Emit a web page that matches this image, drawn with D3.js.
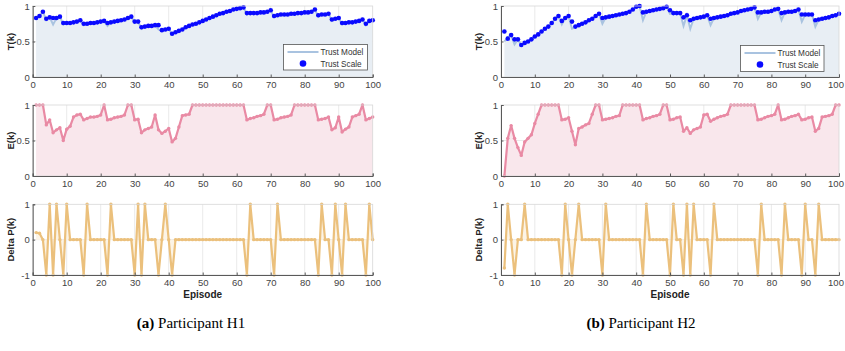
<!DOCTYPE html>
<html><head><meta charset="utf-8">
<script src="https://cdn.jsdelivr.net/npm/d3@7"></script>
<style>body{margin:0;background:#fff}svg{display:block}</style>
</head><body>
<svg id="c" width="845" height="351"></svg>
<script>
const episodes = d3.range(1, 101);
const xTicks = [0, 10, 20, 30, 40, 50, 60, 70, 80, 90, 100];
const trustTicks = [0, 0.5, 1];
const effortTicks = [0, 0.5, 1];
const deltaTicks = [-1, 0, 1];
const legendLabels = ["Trust Model", "Trust Scale"];
const rowLabels = ["T(k)", "E(k)", "Delta P(k)"];
const xLabel = "Episode";

// Participant H1
const h1TrustScale = [
 0.83,0.86,0.92,0.82,0.84,0.83,0.83,0.85,0.76,0.76,
 0.76,0.77,0.78,0.80,0.75,0.75,0.76,0.76,0.77,0.78,
 0.79,0.76,0.77,0.78,0.79,0.80,0.81,0.83,0.85,0.78,
 0.78,0.70,0.71,0.72,0.72,0.73,0.73,0.66,0.67,0.68,
 0.61,0.63,0.65,0.67,0.70,0.72,0.74,0.75,0.77,0.79,
 0.81,0.83,0.85,0.87,0.89,0.90,0.92,0.93,0.95,0.96,
 0.97,0.98,0.90,0.90,0.90,0.90,0.91,0.91,0.92,0.94,
 0.86,0.87,0.88,0.88,0.88,0.89,0.89,0.90,0.90,0.91,
 0.91,0.92,0.95,0.87,0.88,0.88,0.89,0.81,0.82,0.83,
 0.76,0.76,0.77,0.77,0.78,0.79,0.81,0.75,0.79,0.80];
const h1TrustModel = [
 0.83,0.86,0.92,0.80,0.84,0.74,0.83,0.85,0.74,0.76,
 0.76,0.77,0.78,0.80,0.73,0.75,0.76,0.76,0.77,0.78,
 0.79,0.72,0.77,0.78,0.79,0.80,0.81,0.83,0.85,0.76,
 0.78,0.68,0.71,0.72,0.72,0.73,0.67,0.65,0.67,0.68,
 0.60,0.63,0.65,0.67,0.70,0.72,0.74,0.75,0.77,0.79,
 0.81,0.83,0.85,0.87,0.89,0.90,0.92,0.93,0.95,0.96,
 0.97,0.98,0.88,0.90,0.90,0.90,0.91,0.91,0.92,0.94,
 0.84,0.87,0.88,0.88,0.88,0.89,0.89,0.90,0.90,0.91,
 0.91,0.92,0.95,0.85,0.88,0.88,0.89,0.79,0.82,0.83,
 0.74,0.76,0.77,0.77,0.78,0.79,0.81,0.73,0.79,0.80];
const h1Effort = [
 1,1,1,0.72,0.79,0.61,0.65,0.68,0.50,0.66,
 0.70,0.83,0.86,0.87,0.79,0.81,0.83,0.83,0.84,0.86,
 1,0.79,0.80,0.82,0.83,0.84,0.86,1,1,0.79,
 0.80,0.61,0.65,0.67,0.69,0.86,0.65,0.60,0.63,0.67,
 0.48,0.53,0.69,0.85,0.86,0.87,1,1,1,1,
 1,1,1,1,1,1,1,1,1,1,
 1,1,0.79,0.81,0.82,0.84,0.85,0.87,1,1,
 0.79,0.80,0.82,0.83,0.84,0.86,1,1,1,1,
 1,1,1,0.79,0.80,0.81,0.83,0.65,0.68,0.83,
 0.62,0.66,0.69,0.83,0.85,0.87,1,0.79,0.81,0.83];
const h1DeltaP = [
 0.2,0.18,0,-1,1,-1,1,0,-1,1,
 0,0,0,0,-1,1,0,0,0,0,
 0,-1,1,0,0,0,0,0,0,-1,
 1,-1,1,0,0,0,-1,0,1,0,
 -1,0,0,0,0,0,0,0,0,0,
 0,0,0,0,0,0,0,0,0,0,
 0,0,-1,1,0,0,0,0,0,0,
 -1,1,0,0,0,0,0,0,0,0,
 0,0,0,-1,1,0,0,-1,1,0,
 -1,1,0,0,0,0,0,-1,1,0];

// Participant H2
const h2TrustScale = [
 0.64,0.54,0.59,0.53,0.53,0.45,0.48,0.50,0.53,0.57,
 0.60,0.64,0.68,0.71,0.76,0.82,0.86,0.79,0.83,0.86,
 0.78,0.71,0.73,0.75,0.77,0.80,0.82,0.86,0.89,0.83,
 0.84,0.85,0.86,0.87,0.88,0.89,0.90,0.92,0.95,0.99,
 1.00,0.91,0.92,0.93,0.94,0.95,0.96,0.97,0.99,0.94,
 0.90,0.90,0.90,0.84,0.87,0.80,0.82,0.83,0.84,0.85,
 0.87,0.82,0.83,0.84,0.85,0.86,0.87,0.89,0.90,0.91,
 0.93,0.94,0.95,0.96,0.98,0.91,0.91,0.92,0.92,0.93,
 0.95,0.96,0.90,0.91,0.92,0.92,0.93,0.95,0.88,0.88,
 0.88,0.88,0.80,0.81,0.82,0.83,0.84,0.86,0.87,0.89];
const h2TrustModel = [
 0.50,0.56,0.59,0.46,0.53,0.45,0.48,0.50,0.53,0.57,
 0.60,0.64,0.68,0.71,0.76,0.82,0.86,0.74,0.83,0.86,
 0.68,0.70,0.73,0.75,0.77,0.80,0.82,0.86,0.89,0.75,
 0.84,0.85,0.86,0.87,0.88,0.89,0.90,0.92,0.95,0.99,
 1.00,0.80,0.92,0.93,0.94,0.95,0.96,0.97,0.99,0.89,
 0.90,0.90,0.90,0.72,0.87,0.68,0.82,0.83,0.84,0.85,
 0.87,0.73,0.83,0.84,0.85,0.86,0.87,0.89,0.90,0.91,
 0.93,0.94,0.95,0.96,0.98,0.82,0.91,0.92,0.92,0.93,
 0.95,0.96,0.80,0.91,0.92,0.92,0.93,0.95,0.78,0.88,
 0.88,0.88,0.71,0.81,0.82,0.83,0.84,0.86,0.87,0.89];
const h2Effort = [
 0,0.53,0.71,0.53,0.40,0.29,0.48,0.53,0.58,0.74,
 0.87,1,1,1,1,1,1,0.79,0.80,0.82,
 0.63,0.44,0.67,0.69,0.72,0.74,0.87,1,1,0.79,
 0.80,0.81,0.82,0.84,0.85,1,1,1,1,1,
 1,0.79,0.81,0.82,0.84,0.85,0.87,1,1,0.79,
 0.80,0.82,0.83,0.63,0.68,0.60,0.65,0.67,0.69,0.86,
 0.87,0.77,0.80,0.82,0.84,0.85,0.87,1,1,1,
 1,1,1,1,1,0.79,0.80,0.82,0.84,0.85,
 0.87,1,0.79,0.80,0.82,0.84,0.85,0.87,0.79,0.80,
 0.82,0.83,0.63,0.67,0.83,0.84,0.85,0.87,1,1];
const h2DeltaP = [
 -0.8,1,0,-1,0,0,1,0,0,0,
 0,0,0,0,0,0,0,-1,1,0,
 -1,0,1,0,0,0,0,0,0,-1,
 1,0,0,0,0,0,0,0,0,0,
 0,-1,1,0,0,0,0,0,0,-1,
 1,0,0,-1,1,-1,1,0,0,0,
 0,-1,1,0,0,0,0,0,0,0,
 0,0,0,0,0,-1,1,0,0,0,
 0,0,-1,1,0,0,0,0,-1,1,
 0,0,-1,1,0,0,0,0,0,0];

const svg = d3.select("#c");
const FONT = "'Liberation Sans', Arial, sans-serif";

const panels = [
  {x0: 32.7, x1: 372.7, ylabX: 11, scale: h1TrustScale, model: h1TrustModel, effort: h1Effort, delta: h1DeltaP,
   legend: {x: 283.5, y: 44.5, w: 84, h: 25.5}, cap: ["(a)", " Participant H1"], capX: 191},
  {x0: 501, x1: 839, ylabX: 479, scale: h2TrustScale, model: h2TrustModel, effort: h2Effort, delta: h2DeltaP,
   legend: {x: 740.5, y: 45.5, w: 83.5, h: 26}, cap: ["(b)", " Participant H2"], capX: 641}
];
const rows = [
  {top: 6, bot: 77, domain: [0, 1], ticks: trustTicks, label: rowLabels[0], base: 0},
  {top: 105, bot: 176, domain: [0, 1], ticks: effortTicks, label: rowLabels[1], base: 0},
  {top: 204.3, bot: 275, domain: [-1, 1], ticks: deltaTicks, label: rowLabels[2], base: 0}
];

panels.forEach((p, pi) => {
  const x = d3.scaleLinear().domain([0, 100]).range([p.x0, p.x1]);
  rows.forEach((r, ri) => {
    const y = d3.scaleLinear().domain(r.domain).range([r.bot, r.top]);
    const g = svg.append("g");
    g.selectAll(".vg").data(xTicks.slice(1, -1)).join("line")
      .attr("x1", d => x(d)).attr("x2", d => x(d)).attr("y1", r.top).attr("y2", r.bot)
      .attr("stroke", "#e4e4e4").attr("stroke-width", 0.8);
    g.selectAll(".hg").data(r.ticks.slice(1, -1)).join("line")
      .attr("x1", p.x0).attr("x2", p.x1).attr("y1", d => y(d)).attr("y2", d => y(d))
      .attr("stroke", "#e4e4e4").attr("stroke-width", 0.8);

    if (ri === 0) {
      const area = d3.area().x((d, i) => x(episodes[i])).y0(y(0)).y1(d => y(d));
      g.append("path").datum(p.model).attr("d", area).attr("fill", "#e8eef4");
      const line = d3.line().x((d, i) => x(episodes[i])).y(d => y(d));
      g.append("path").datum(p.model).attr("d", line).attr("fill", "none")
        .attr("stroke", "#a9c3e0").attr("stroke-width", 2);
      g.selectAll(".dot").data(p.scale).join("circle")
        .attr("cx", (d, i) => x(episodes[i])).attr("cy", d => y(d)).attr("r", 2.3)
        .attr("fill", "#0a0aff");
      const L = p.legend;
      const lg = svg.append("g").attr("font-family", FONT).attr("font-size", 8.2).attr("fill", "#333");
      lg.append("rect").attr("x", L.x).attr("y", L.y).attr("width", L.w).attr("height", L.h)
        .attr("fill", "#fff").attr("stroke", "#555").attr("stroke-width", 0.8);
      lg.append("line").attr("x1", L.x + 4).attr("x2", L.x + 35).attr("y1", L.y + 7.5).attr("y2", L.y + 7.5)
        .attr("stroke", "#a9c3e0").attr("stroke-width", 2);
      lg.append("circle").attr("cx", L.x + 19.5).attr("cy", L.y + 19).attr("r", 3.3).attr("fill", "#0a0aff");
      lg.append("text").attr("x", L.x + 37).attr("y", L.y + 10.5).text(legendLabels[0]);
      lg.append("text").attr("x", L.x + 37).attr("y", L.y + 22).text(legendLabels[1]);
    } else {
      const vals = ri === 1 ? p.effort : p.delta;
      const lineCol = ri === 1 ? "#e98aa4" : "#ebc07c";
      const fillCol = ri === 1 ? "#f9e7ec" : "#fcf4e6";
      const area = d3.area().x((d, i) => x(episodes[i])).y0(y(r.base)).y1(d => y(d));
      g.append("path").datum(vals).attr("d", area).attr("fill", fillCol);
      const line = d3.line().x((d, i) => x(episodes[i])).y(d => y(d));
      g.append("path").datum(vals).attr("d", line).attr("fill", "none")
        .attr("stroke", lineCol).attr("stroke-width", 2.2).attr("stroke-linejoin", "round");
      g.selectAll(".dot").data(vals).join("circle")
        .attr("cx", (d, i) => x(episodes[i])).attr("cy", d => y(d)).attr("r", 1.7)
        .attr("fill", lineCol);
    }
    g.append("rect").attr("x", p.x0).attr("y", r.top).attr("width", p.x1 - p.x0).attr("height", r.bot - r.top)
      .attr("fill", "none").attr("stroke", "#d8d8d8").attr("stroke-width", 0.8);
    const ax = g.append("g").attr("transform", `translate(0,${r.bot})`)
      .call(d3.axisBottom(x).tickValues(xTicks).tickSize(-2.5).tickPadding(4.5).tickFormat(d3.format("d")));
    const ay = g.append("g").attr("transform", `translate(${p.x0},0)`)
      .call(d3.axisLeft(y).tickValues(r.ticks).tickSize(-2.5).tickPadding(3).tickFormat(d => String(d)));
    [ax, ay].forEach(a => {
      a.select(".domain").attr("stroke", "#5a5a5a").attr("stroke-width", 1);
      a.selectAll(".tick line").attr("stroke", "#5a5a5a");
      a.selectAll("text").attr("font-family", FONT).attr("font-size", 9.5).attr("fill", "#444");
    });
    if (pi === 1) {
      ax.selectAll(".tick text").filter(d => d === 100).attr("dx", "-3.5");
    }
    g.append("text").attr("transform", `translate(${p.ylabX},${(r.top + r.bot) / 2}) rotate(-90)`)
      .attr("text-anchor", "middle").attr("dy", "0.35em")
      .attr("font-family", FONT).attr("font-weight", "bold").attr("font-size", 9.5).attr("fill", "#222")
      .text(r.label);
    if (ri === 2) {
      g.append("text").attr("x", (p.x0 + p.x1) / 2).attr("y", 298)
        .attr("text-anchor", "middle").attr("font-family", FONT).attr("font-weight", "bold")
        .attr("font-size", 10).attr("fill", "#222").text(xLabel);
    }
  });
  const cap = svg.append("text").attr("x", p.capX).attr("y", 328).attr("text-anchor", "middle")
    .attr("font-family", "'Liberation Serif', 'Times New Roman', serif").attr("font-size", 15).attr("fill", "#000");
  cap.append("tspan").attr("font-weight", "bold").text(p.cap[0]);
  cap.append("tspan").text(p.cap[1]);
});
</script>
</body></html>
